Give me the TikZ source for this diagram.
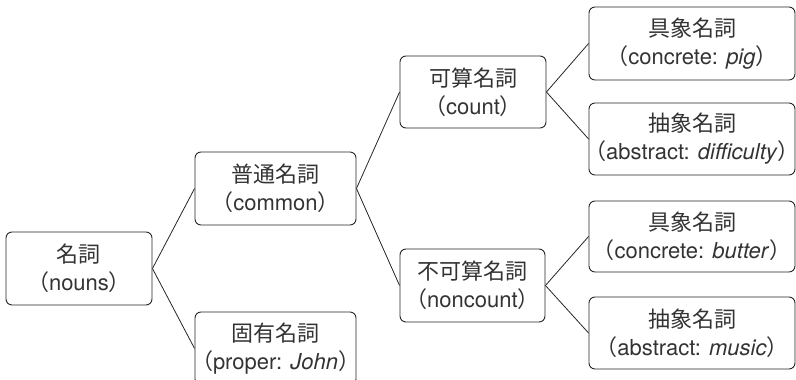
\documentclass[tikz,border=0pt]{standalone}
\usepackage{fontspec}
\setmainfont{TeX Gyre Heros}
\newfontfamily\jp{Noto Sans CJK JP}
\newcommand\jlp{\kern-0.4em{\jp （}}
\newcommand\jrp{{\jp ）}\kern-0.4em}
\begin{document}
\begin{tikzpicture}[x=1pt,y=-1pt,
  box/.style={draw=black!85, line width=0.9pt, rounded corners=6pt, align=center,
    font=\fontsize{22}{28}\selectfont, inner sep=0pt, text=black!80, minimum height=73pt},
  link/.style={line width=0.8pt, black!85}]
\useasboundingbox (0,0) rectangle (796,380);
\node[box, minimum width=146pt] (n) at (79,268.5) {{\jp 名詞}\\\jlp nouns\jrp};
\node[box, minimum width=161pt] (common) at (275.5,188.5) {{\jp 普通名詞}\\\jlp common\jrp};
\node[box, minimum width=161pt] (proper) at (275.5,348.5) {{\jp 固有名詞}\\\jlp proper: \textit{John}\jrp};
\node[box, minimum width=146pt, minimum height=72pt] (count) at (473,92) {{\jp 可算名詞}\\\jlp count\jrp};
\node[box, minimum width=145pt] (noncount) at (472.5,285.5) {{\jp 不可算名詞}\\\jlp noncount\jrp};
\node[box, minimum width=206pt] (pig) at (692,43.5) {{\jp 具象名詞}\\\jlp concrete: \textit{pig}\jrp};
\node[box, minimum width=206pt, minimum height=72pt] (diff) at (692,139) {{\jp 抽象名詞}\\\jlp abstract: \textit{difficulty}\jrp};
\node[box, minimum width=206pt, minimum height=71pt] (butter) at (692,236.5) {{\jp 具象名詞}\\\jlp concrete: \textit{butter}\jrp};
\node[box, minimum width=206pt, minimum height=72pt] (music) at (692,333) {{\jp 抽象名詞}\\\jlp abstract: \textit{music}\jrp};
\draw[link] (n.east) -- (common.west);
\draw[link] (n.east) -- (proper.west);
\draw[link] (common.east) -- (count.west);
\draw[link] (common.east) -- (noncount.west);
\draw[link] (count.east) -- (pig.west);
\draw[link] (count.east) -- (diff.west);
\draw[link] (noncount.east) -- (butter.west);
\draw[link] (noncount.east) -- (music.west);
\end{tikzpicture}
\end{document}
